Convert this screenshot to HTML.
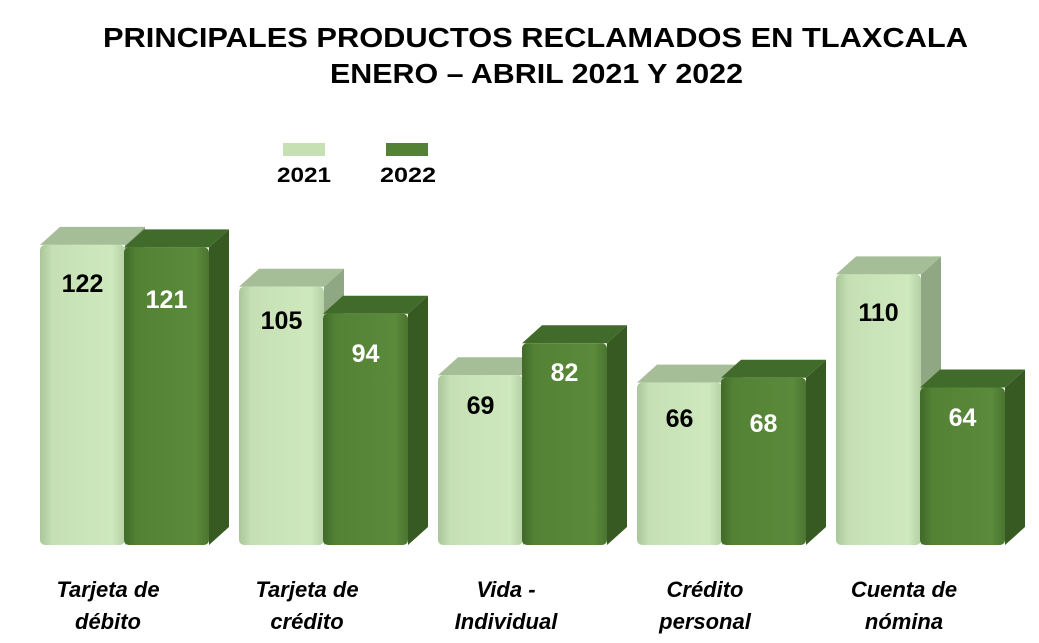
<!DOCTYPE html>
<html><head><meta charset="utf-8"><style>
body{margin:0;background:#fff;}
svg{display:block;font-family:"Liberation Sans",sans-serif;}
</style></head><body>
<svg width="1039" height="643" viewBox="0 0 1039 643">
<defs>
<linearGradient id="lf" x1="0" x2="1"><stop offset="0" stop-color="#a9c79a"/><stop offset="0.15" stop-color="#c6e0b4"/><stop offset="0.85" stop-color="#cfe8be"/><stop offset="1" stop-color="#b4d0a4"/></linearGradient>
<linearGradient id="df" x1="0" x2="1"><stop offset="0" stop-color="#3f6a28"/><stop offset="0.15" stop-color="#548235"/><stop offset="0.85" stop-color="#5a8a3a"/><stop offset="1" stop-color="#4a7430"/></linearGradient>
</defs>
<text x="103" y="47" textLength="865" lengthAdjust="spacingAndGlyphs" font-size="28" font-weight="bold" fill="#000">PRINCIPALES PRODUCTOS RECLAMADOS EN TLAXCALA</text>
<text x="330" y="83" textLength="413" lengthAdjust="spacingAndGlyphs" font-size="28" font-weight="bold" fill="#000">ENERO – ABRIL 2021 Y 2022</text>
<rect x="283" y="143" width="42" height="13" fill="#c6e0b4"/>
<rect x="386" y="143" width="42" height="13" fill="#548235"/>
<text x="277" y="182" textLength="54" lengthAdjust="spacingAndGlyphs" font-size="21" font-weight="bold">2021</text>
<text x="380" y="182" textLength="56" lengthAdjust="spacingAndGlyphs" font-size="21" font-weight="bold">2022</text>
<g id="bars"></g>
<g font-size="22" font-weight="bold" font-style="italic" text-anchor="middle">
<text x="108" y="597">Tarjeta de</text><text x="108" y="629">débito</text>
<text x="307" y="597">Tarjeta de</text><text x="307" y="629">crédito</text>
<text x="506" y="597">Vida -</text><text x="506" y="629">Individual</text>
<text x="705" y="597">Crédito</text><text x="705" y="629">personal</text>
<text x="904" y="597">Cuenta de</text><text x="904" y="629">nómina</text>
</g>
</svg>
<script>
var g=document.getElementById('bars'),ns='http://www.w3.org/2000/svg';
var L=[122,105,69,66,110],D=[121,94,82,68,64],B=545,S=2.46,W=85,dx=20,dy=18;
var LL=[283,320,405,418,312],DL=[299,353,372,423,417];
function el(t,a){var e=document.createElementNS(ns,t);for(var k in a)e.setAttribute(k,a[k]);g.appendChild(e);return e;}
function bar(x,v,front,side,top,lbl,ly,col){var y=B-v*S;
el('path',{d:`M${x+W} ${y} L${x+W+dx} ${y-dy} L${x+W+dx} ${B-dy} L${x+W} ${B} Z`,fill:side});
el('path',{d:`M${x} ${y} L${x+dx} ${y-dy} L${x+W+dx} ${y-dy} L${x+W} ${y} Z`,fill:top});
el('rect',{x:x,y:y,width:W,height:B-y,rx:5,fill:front});
var t=el('text',{x:x+W/2,y:ly+9,'text-anchor':'middle','font-size':25,'font-weight':'bold',fill:col});t.textContent=v;}
for(var i=0;i<5;i++){var x=40+199*i;
bar(x,L[i],'url(#lf)','#8fa883','#a6be98',0,LL[i],'#000');
bar(x+W-1,D[i],'url(#df)','#375a22','#416b2a',0,DL[i],'#fff');}
</script>
</body></html>
